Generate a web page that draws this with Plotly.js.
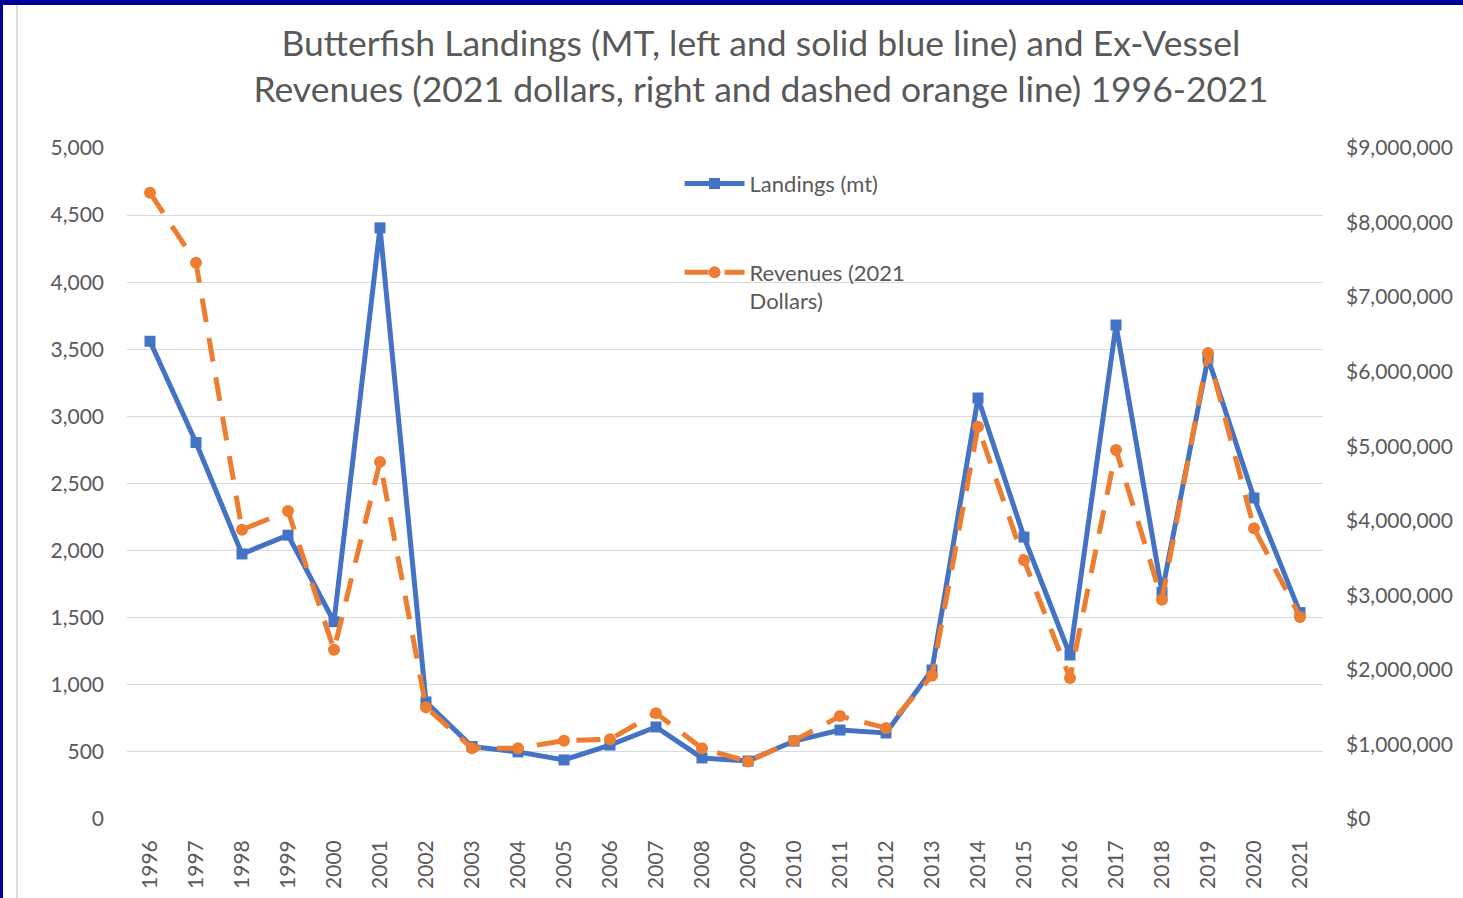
<!DOCTYPE html>
<html>
<head>
<meta charset="utf-8">
<script src="https://cdn.plot.ly/plotly-3.0.1.min.js"></script>
<style>
  html, body { margin: 0; padding: 0; background: #000099; width: 1463px; height: 898px; overflow: hidden; }
  #wrap { position: absolute; left: 3px; top: 5px; width: 1460px; height: 893px; background: #ffffff; }
  #frame { position: absolute; left: 13px; top: 0; width: 0; height: 893px; border-left: 2px solid #dcdcdc; z-index: 5; }
  #chart { position: absolute; left: 0; top: 0; width: 1460px; height: 893px; }
</style>
</head>
<body>
<div id="wrap"><div id="frame"></div><div id="chart"></div></div>
<script>
const years = ["1996","1997","1998","1999","2000","2001","2002","2003","2004","2005","2006","2007","2008",
               "2009","2010","2011","2012","2013","2014","2015","2016","2017","2018","2019","2020","2021"];
const landingsMT = [3560, 2805, 1975, 2115, 1470, 4405, 872, 540, 500, 440, 551, 686, 455,
                    432, 581, 663, 641, 1110, 3137, 2101, 1222, 3681, 1690, 3435, 2392, 1538];
const revenues2021 = [8400000, 7460000, 3880000, 4130000, 2270000, 4790000, 1500000, 950000, 950000, 1050000, 1070000, 1420000, 950000,
                      770000, 1050000, 1380000, 1220000, 1920000, 5260000, 3470000, 1890000, 4950000, 2940000, 6250000, 3900000, 2710000];
const seriesNames = ["Landings (mt)", "Revenues (2021<br>Dollars)"];
const leftTicks = [0, 500, 1000, 1500, 2000, 2500, 3000, 3500, 4000, 4500, 5000];
const rightTicks = [0, 1000000, 2000000, 3000000, 4000000, 5000000, 6000000, 7000000, 8000000, 9000000];
const titleLines = ["Butterfish Landings (MT, left and solid blue line) and Ex-Vessel",
                    "Revenues (2021 dollars, right and dashed orange line) 1996-2021"];

const FONT = "Lato, 'Open Sans', sans-serif";
const GREY = "#595959";
const TICK = 21;

const rightText = rightTicks.map(v => "$" + v.toLocaleString("en-US"));

const traces = [
  {
    x: years, y: revenues2021, name: seriesNames[1], yaxis: "y2", type: "scatter", mode: "lines+markers",
    legendgroup: "b", legendrank: 2,
    line: { color: "#ED7D31", width: 5, dash: "24px,16px" },
    marker: { symbol: "circle", size: 12, color: "#ED7D31" }
  },
  {
    x: years, y: landingsMT, name: seriesNames[0], yaxis: "y", type: "scatter", mode: "lines+markers",
    legendgroup: "a", legendrank: 1,
    line: { color: "#4472C4", width: 5 },
    marker: { symbol: "square", size: 11, color: "#4472C4" }
  }
];

const layout = {
  width: 1460, height: 893,
  paper_bgcolor: "#ffffff", plot_bgcolor: "#ffffff",
  margin: { l: 124, r: 140, t: 143, b: 79 },
  font: { family: FONT, color: GREY, size: TICK },
  title: {
    text: titleLines.join("<br>"),
    font: { family: FONT, size: 35.5, color: GREY },
    x: 0.53, xref: "paper", xanchor: "center",
    y: 1 - 51 / 893, yref: "container", yanchor: "top"
  },
  xaxis: {
    type: "category", range: [-0.5, years.length - 0.5],
    tickangle: -90, showgrid: false, zeroline: false, showline: false,
    ticks: "", ticklabelstandoff: 16,
    tickfont: { family: FONT, size: TICK, color: GREY }
  },
  yaxis: {
    range: [0, 5000], tickvals: leftTicks, tickformat: ",d",
    showgrid: true, gridcolor: "#d9d9d9", gridwidth: 1,
    zeroline: false, showline: false, ticks: "", ticklabelstandoff: 22,
    tickfont: { family: FONT, size: TICK, color: GREY }
  },
  yaxis2: {
    overlaying: "y", side: "right",
    range: [0, 9000000], tickvals: rightTicks, ticktext: rightText,
    showgrid: false, zeroline: false, showline: false, ticks: "", ticklabelstandoff: 22,
    tickfont: { family: FONT, size: TICK, color: GREY }
  },
  showlegend: true,
  legend: {
    x: 0.462, xanchor: "left", y: 0.978, yanchor: "top",
    bgcolor: "rgba(0,0,0,0)", borderwidth: 0,
    font: { family: FONT, size: 22, color: GREY },
    traceorder: "grouped", tracegroupgap: 57, valign: "top",
    itemwidth: 60
  }
};

Plotly.newPlot("chart", traces, layout, { displayModeBar: false, staticPlot: true });
</script>
</body>
</html>
